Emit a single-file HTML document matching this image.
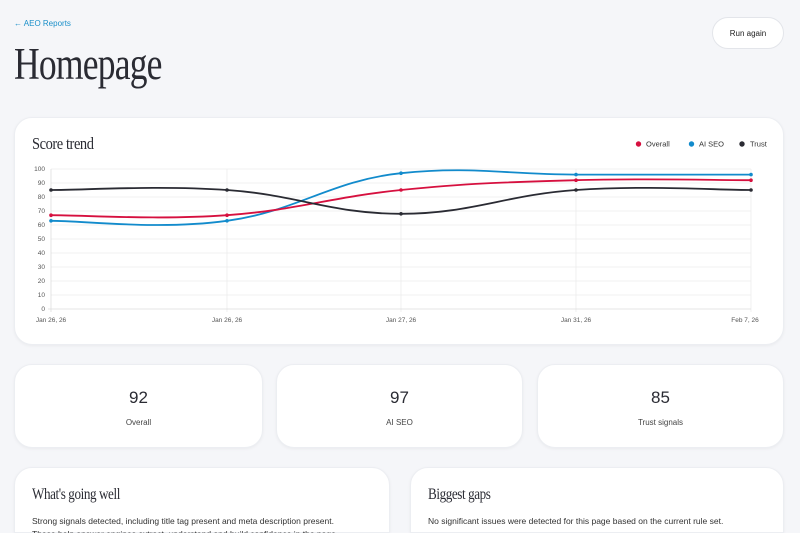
<!DOCTYPE html>
<html style="width:800px;height:533px;overflow:hidden"><head><meta charset="utf-8"><style>
*{margin:0;padding:0;box-sizing:border-box}
body{width:800px;height:533px;background:#f5f6f9;font-family:"Liberation Sans",sans-serif;position:relative;overflow:hidden;color:#2a2b33}
.card{position:absolute;background:#fff;border-radius:18px;box-shadow:0 1px 3px rgba(0,0,0,0.05);border:1px solid #eceef2}
.serif{font-family:"Liberation Serif",serif;color:#2a2b33;transform-origin:left top;white-space:nowrap;position:absolute}
.num{position:absolute;width:100%;text-align:center;font-size:17px;top:23px;color:#2a2b33}
.lab{position:absolute;width:100%;text-align:center;font-size:8px;top:53px;color:#444}
</style></head><body>
<div style="position:absolute;left:14px;top:19px;font-size:8px;color:#1a8fc9">← AEO Reports</div>
<div class="serif" style="left:14px;top:38px;font-size:45px;transform:scaleX(0.79);letter-spacing:-1px">Homepage</div>
<div style="position:absolute;left:712px;top:17px;width:72px;height:32px;border-radius:16px;background:#fff;border:1px solid #e3e5ea;font-size:8px;text-align:center;line-height:31px;color:#222">Run again</div>

<div class="card" style="left:14px;top:117px;width:770px;height:228px"></div>
<div class="serif" style="left:32px;top:134px;font-size:17px;transform:scaleX(0.85);letter-spacing:-0.5px">Score trend</div>
<svg style="position:absolute;left:0;top:0" width="800" height="533">
<g font-family="Liberation Sans" font-size="6.5" fill="#666">
<circle cx="638.5" cy="144" r="2.7" fill="#d6103f"/><text x="646" y="146.5" font-size="7.5" fill="#333">Overall</text>
<circle cx="691.5" cy="144" r="2.7" fill="#128bcc"/><text x="699" y="146.5" font-size="7.5" fill="#333">AI SEO</text>
<circle cx="742" cy="144" r="2.7" fill="#2a2b33"/><text x="750" y="146.5" font-size="7.5" fill="#333">Trust</text>
</g>
<g stroke="#ececec" stroke-width="0.8">
<line x1="51" y1="169" x2="751" y2="169"/><line x1="51" y1="183" x2="751" y2="183"/><line x1="51" y1="197" x2="751" y2="197"/><line x1="51" y1="211" x2="751" y2="211"/><line x1="51" y1="225" x2="751" y2="225"/><line x1="51" y1="239" x2="751" y2="239"/><line x1="51" y1="253" x2="751" y2="253"/><line x1="51" y1="267" x2="751" y2="267"/><line x1="51" y1="281" x2="751" y2="281"/><line x1="51" y1="295" x2="751" y2="295"/>
<line x1="227" y1="169" x2="227" y2="312"/><line x1="401" y1="169" x2="401" y2="312"/><line x1="576" y1="169" x2="576" y2="312"/><line x1="751" y1="169" x2="751" y2="312"/>
</g>
<line x1="51" y1="169" x2="51" y2="312" stroke="#ddd" stroke-width="0.8"/>
<line x1="48" y1="309" x2="751" y2="309" stroke="#ddd" stroke-width="0.8"/>
<g font-family="Liberation Sans" font-size="6.5" fill="#555" text-anchor="end">
<text x="45" y="171">100</text><text x="45" y="185">90</text><text x="45" y="199">80</text><text x="45" y="213">70</text><text x="45" y="227">60</text><text x="45" y="241">50</text><text x="45" y="255">40</text><text x="45" y="269">30</text><text x="45" y="283">20</text><text x="45" y="297">10</text><text x="45" y="311">0</text>
</g>
<g font-family="Liberation Sans" font-size="6.5" fill="#555" text-anchor="middle">
<text x="51" y="322">Jan 26, 26</text><text x="227" y="322">Jan 26, 26</text><text x="401" y="322">Jan 27, 26</text><text x="576" y="322">Jan 31, 26</text><text x="745" y="322">Feb 7, 26</text>
</g>
<g fill="none" stroke-width="1.8">
<path stroke="#128bcc" d="M51,220.8 C86.2,220.8 157,230.3 227,220.8 C297,211.3 331.2,180.4 401,173.2 C470.8,166 506,174.3 576,174.6 C646,174.9 716,174.6 751,174.6"/>
<path stroke="#d6103f" d="M51,215.2 C86.2,215.2 157,220.2 227,215.2 C297,210.2 331.2,197 401,190 C470.8,183 506,182.2 576,180.2 C646,178.2 716,180.2 751,180.2"/>
<path stroke="#2a2b33" d="M51,190 C86.2,190 157,185.2 227,190 C297,194.8 331.2,213.8 401,213.8 C470.8,213.8 506,194.8 576,190 C646,185.2 716,190 751,190"/>
</g>
<g fill="#128bcc"><circle cx="51" cy="220.8" r="1.8"/><circle cx="227" cy="220.8" r="1.8"/><circle cx="401" cy="173.2" r="1.8"/><circle cx="576" cy="174.6" r="1.8"/><circle cx="751" cy="174.6" r="1.8"/></g>
<g fill="#d6103f"><circle cx="51" cy="215.2" r="1.8"/><circle cx="227" cy="215.2" r="1.8"/><circle cx="401" cy="190" r="1.8"/><circle cx="576" cy="180.2" r="1.8"/><circle cx="751" cy="180.2" r="1.8"/></g>
<g fill="#2a2b33"><circle cx="51" cy="190" r="1.8"/><circle cx="227" cy="190" r="1.8"/><circle cx="401" cy="213.8" r="1.8"/><circle cx="576" cy="190" r="1.8"/><circle cx="751" cy="190" r="1.8"/></g>
</svg>

<div class="card" style="left:14px;top:364px;width:249px;height:84px"><div class="num">92</div><div class="lab">Overall</div></div>
<div class="card" style="left:276px;top:364px;width:247px;height:84px"><div class="num">97</div><div class="lab">AI SEO</div></div>
<div class="card" style="left:537px;top:364px;width:247px;height:84px"><div class="num">85</div><div class="lab">Trust signals</div></div>

<div class="card" style="left:14px;top:467px;width:376px;height:66px;border-bottom-left-radius:0;border-bottom-right-radius:0"></div>
<div class="card" style="left:410px;top:467px;width:374px;height:66px;border-bottom-left-radius:0;border-bottom-right-radius:0"></div>
<div class="serif" style="left:32px;top:486px;font-size:16px;transform:scaleX(0.82);letter-spacing:-0.5px">What's going well</div>
<div class="serif" style="left:428px;top:486px;font-size:16px;transform:scaleX(0.82);letter-spacing:-0.5px">Biggest gaps</div>
<div style="position:absolute;left:32px;top:516px;font-size:8.5px;color:#333;white-space:nowrap">Strong signals detected, including title tag present and meta description present.</div>
<div style="position:absolute;left:32px;top:529px;font-size:8.5px;color:#333;white-space:nowrap">These help answer engines extract, understand and build confidence in the page.</div>
<div style="position:absolute;left:428px;top:516px;font-size:8.5px;color:#333;white-space:nowrap">No significant issues were detected for this page based on the current rule set.</div>
</body></html>
